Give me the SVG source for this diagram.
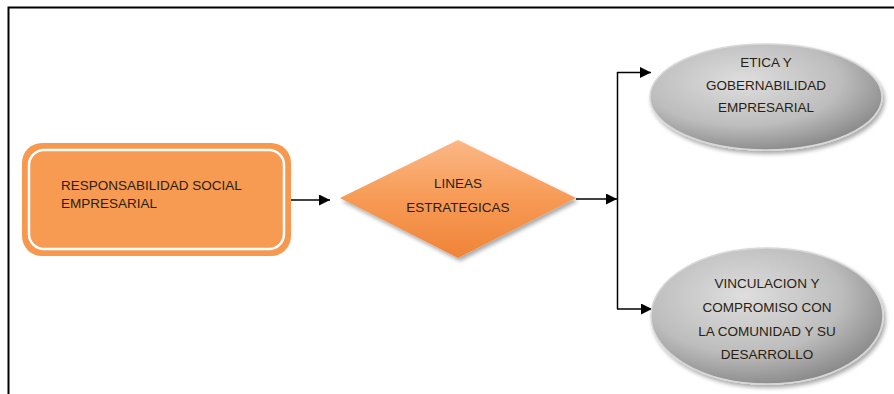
<svg xmlns="http://www.w3.org/2000/svg" width="894" height="394" viewBox="0 0 894 394">
<defs>
<style>
.t{font-family:"Liberation Sans","Open Sans",sans-serif;font-size:13.5px;fill:#2a1d12}
.tc{text-anchor:middle}
.conn{fill:none;stroke:#000;stroke-width:1.5}
</style>
<marker id="ah" viewBox="0 0 10 10" refX="10" refY="5" markerWidth="11" markerHeight="11" markerUnits="userSpaceOnUse" orient="auto">
<path d="M0,0 L10,5 L0,10 z" fill="#000"/>
</marker>
<linearGradient id="dg" x1="0" y1="0" x2="0" y2="1">
<stop offset="0" stop-color="#fbb886"/>
<stop offset="0.5" stop-color="#f79a55"/>
<stop offset="1" stop-color="#f08438"/>
</linearGradient>
<radialGradient id="eg" cx="0.4" cy="0.35" r="0.7">
<stop offset="0" stop-color="#dedede"/>
<stop offset="0.6" stop-color="#bdbdbd"/>
<stop offset="1" stop-color="#858585"/>
</radialGradient>
<filter id="sh" x="-10%" y="-10%" width="130%" height="130%">
<feGaussianBlur in="SourceAlpha" stdDeviation="2"/>
<feOffset dx="2" dy="3"/>
<feComponentTransfer><feFuncA type="linear" slope="0.35"/></feComponentTransfer>
<feMerge><feMergeNode/><feMergeNode in="SourceGraphic"/></feMerge>
</filter>
</defs>
<rect width="894" height="394" fill="#fff"/>
<path d="M8.5,394 V7.5 H894" fill="none" stroke="#000" stroke-width="2"/>
<g id="connectors">
<line class="conn" x1="291" y1="200" x2="330" y2="200" marker-end="url(#ah)"/>
<line class="conn" x1="576" y1="199" x2="617" y2="199" marker-end="url(#ah)"/>
<line class="conn" x1="617.5" y1="72" x2="617.5" y2="309"/>
<line class="conn" x1="617" y1="72.5" x2="651" y2="72.5" marker-end="url(#ah)"/>
<line class="conn" x1="617" y1="309" x2="652" y2="309" marker-end="url(#ah)"/>
</g>
<g id="node-rse">
<rect x="22" y="143" width="269" height="113" rx="20" fill="#f7984f"/>
<rect x="29" y="150" width="255" height="99" rx="15" fill="#f79a52" stroke="#fff" stroke-width="2.5"/>
<text class="t" x="61" y="190">RESPONSABILIDAD SOCIAL</text>
<text class="t" x="61" y="208">EMPRESARIAL</text>
</g>
<g id="node-lineas">
<polygon points="340,198 458,140 576,198 458,258" fill="url(#dg)" filter="url(#sh)"/>
<text class="t tc" x="458" y="188">LINEAS</text>
<text class="t tc" x="458" y="212">ESTRATEGICAS</text>
</g>
<g id="node-etica">
<ellipse cx="766" cy="97" rx="116" ry="53" fill="url(#eg)" stroke="#d8d8d8" stroke-width="1.5" filter="url(#sh)"/>
<text class="t tc" x="766" y="67">ETICA Y</text>
<text class="t tc" x="766" y="90">GOBERNABILIDAD</text>
<text class="t tc" x="766" y="112">EMPRESARIAL</text>
</g>
<g id="node-vinculacion">
<ellipse cx="767" cy="316" rx="116" ry="68" fill="url(#eg)" stroke="#d8d8d8" stroke-width="1.5" filter="url(#sh)"/>
<text class="t tc" x="767" y="288">VINCULACION Y</text>
<text class="t tc" x="767" y="312">COMPROMISO CON</text>
<text class="t tc" x="767" y="336">LA COMUNIDAD Y SU</text>
<text class="t tc" x="767" y="359">DESARROLLO</text>
</g>
</svg>
